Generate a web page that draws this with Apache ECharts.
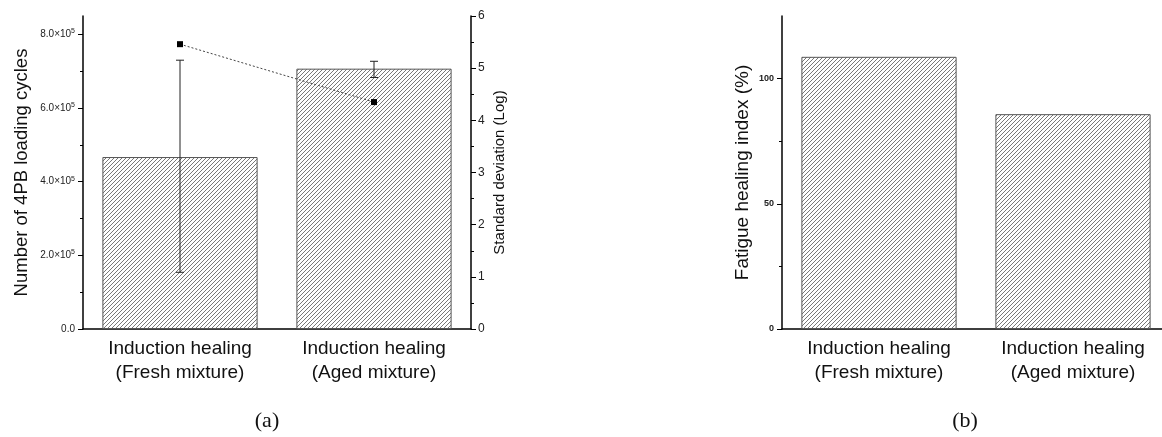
<!DOCTYPE html>
<html>
<head>
<meta charset="utf-8">
<script src="https://cdn.jsdelivr.net/npm/echarts@6/dist/echarts.min.js"></script>
<style>
  html, body { margin: 0; padding: 0; background: #fff; }
  #chart { width: 1162px; height: 437px; }
</style>
</head>
<body>
<div id="chart"></div>
<script>
    // data
    var categories = ['Induction healing\n(Fresh mixture)', 'Induction healing\n(Aged mixture)'];
    var cyclesMean = [467000, 707000];
    var cyclesLow = [154000, 683000];
    var cyclesHigh = [730000, 727000];
    var stdDevLog = [5.46, 4.35];
    var healingIndex = [108.7, 85.8];

    var leftTicks = [0, 200000, 400000, 600000, 800000];
    var leftMinorTicks = [100000, 300000, 500000, 700000];
    var healTicks = [0, 50, 100];
    var healMinorTicks = [25, 75];

    // hatch fill for the bars
    function hatch() {
        var c = document.createElement('canvas');
        c.width = 8; c.height = 8;
        var g = c.getContext('2d');
        g.fillStyle = '#fff';
        g.fillRect(0, 0, 8, 8);
        g.strokeStyle = '#6a6a6a';
        g.lineWidth = 0.9;
        for (var k = -2; k <= 3; k++) {
            g.beginPath();
            g.moveTo(k * 4, 8);
            g.lineTo(k * 4 + 8, 0);
            g.stroke();
        }
        return { image: c, repeat: 'repeat' };
    }
    var fill = hatch();

    var errData = cyclesMean.map(function (v, i) {
        return [i, cyclesLow[i], cyclesHigh[i]];
    });

    var font = 'Liberation Sans, Arial, sans-serif';

    var myChart = echarts.init(document.getElementById('chart'));

    var catAxis = function (gridIndex) {
        return {
            type: 'category',
            gridIndex: gridIndex,
            data: categories,
            axisLine: { lineStyle: { color: '#000', width: 1.5 } },
            axisTick: { alignWithLabel: true, length: 5, lineStyle: { color: '#000' } },
            axisLabel: { fontFamily: font, fontSize: 19, lineHeight: 24, color: '#111', margin: 8, interval: 0 }
        };
    };

    var option = {
        backgroundColor: '#fff',
        animation: false,
        grid: [
            { left: 83, top: 16, width: 388, bottom: 108, outerBoundsMode: 'none' },
            { left: 782, top: 16, width: 388, bottom: 108, outerBoundsMode: 'none' }
        ],
        xAxis: [
            catAxis(0),
            catAxis(1),
            {
                type: 'category', gridIndex: 1, data: categories,
                axisLine: { show: false },
                axisTick: { length: 4, lineStyle: { color: '#000' } },
                axisLabel: { show: false }
            }
        ],
        yAxis: [
            {
                type: 'value', gridIndex: 0, position: 'left', min: 0, max: 850000,
                name: 'Number of 4PB loading cycles', nameLocation: 'middle', nameGap: 52,
                nameTextStyle: { fontFamily: font, fontSize: 18.5, color: '#111' },
                axisLine: { show: true, lineStyle: { color: '#000', width: 1.5 } },
                axisTick: { show: true, length: 5, customValues: leftTicks, lineStyle: { color: '#000' } },
                splitLine: { show: false },
                axisLabel: {
                    customValues: leftTicks, margin: 8,
                    formatter: function (v) {
                        if (v === 0) return '{m|0.0}';
                        return '{m|' + (v / 100000).toFixed(1) + '×10}{e|5}';
                    },
                    rich: {
                        m: { fontFamily: font, fontSize: 10, color: '#222', lineHeight: 13 },
                        e: { fontFamily: font, fontSize: 7, color: '#222', lineHeight: 13, verticalAlign: 'top', padding: [0, 0, 4, 0] }
                    }
                }
            },
            {
                type: 'value', gridIndex: 0, position: 'left', min: 0, max: 850000,
                axisLine: { show: false },
                axisTick: { show: true, length: 3, customValues: leftMinorTicks, lineStyle: { color: '#000' } },
                axisLabel: { show: false },
                splitLine: { show: false }
            },
            {
                type: 'value', gridIndex: 0, position: 'right', min: 0, max: 6, interval: 1,
                name: 'Standard deviation (Log)', nameLocation: 'middle', nameGap: 21,
                nameTextStyle: { fontFamily: font, fontSize: 15, color: '#111' },
                axisLine: { show: true, lineStyle: { color: '#000', width: 1.5 } },
                axisTick: { show: true, length: 5, lineStyle: { color: '#000' } },
                minorTick: { show: true, splitNumber: 2, length: 3, lineStyle: { color: '#000' } },
                axisLabel: { fontFamily: font, fontSize: 12, color: '#222', margin: 7 },
                splitLine: { show: false }
            },
            {
                type: 'value', gridIndex: 1, position: 'left', min: 0, max: 125,
                name: 'Fatigue healing index (%)', nameLocation: 'middle', nameGap: 30,
                nameTextStyle: { fontFamily: font, fontSize: 19, color: '#111' },
                axisLine: { show: true, lineStyle: { color: '#000', width: 1.5 } },
                axisTick: { show: true, length: 5, customValues: healTicks, lineStyle: { color: '#000' } },
                axisLabel: { customValues: healTicks, fontFamily: font, fontSize: 9, fontWeight: 'bold', color: '#222', margin: 8 },
                splitLine: { show: false }
            },
            {
                type: 'value', gridIndex: 1, position: 'left', min: 0, max: 125,
                axisLine: { show: false },
                axisTick: { show: true, length: 3, customValues: healMinorTicks, lineStyle: { color: '#000' } },
                axisLabel: { show: false },
                splitLine: { show: false }
            }
        ],
        series: [
            {
                type: 'bar', xAxisIndex: 0, yAxisIndex: 0,
                data: cyclesMean, barWidth: '80%',
                itemStyle: { color: fill, borderColor: '#555', borderWidth: 1 }
            },
            {
                type: 'custom', xAxisIndex: 0, yAxisIndex: 0,
                data: errData, encode: { x: 0, y: [1, 2] }, z: 5,
                renderItem: function (params, api) {
                    var lo = api.coord([api.value(0), api.value(1)]);
                    var hi = api.coord([api.value(0), api.value(2)]);
                    var w = 4;
                    var st = { stroke: '#222', lineWidth: 1 };
                    return {
                        type: 'group',
                        children: [
                            { type: 'line', shape: { x1: hi[0], y1: hi[1], x2: lo[0], y2: lo[1] }, style: st },
                            { type: 'line', shape: { x1: hi[0] - w, y1: hi[1], x2: hi[0] + w, y2: hi[1] }, style: st },
                            { type: 'line', shape: { x1: lo[0] - w, y1: lo[1], x2: lo[0] + w, y2: lo[1] }, style: st }
                        ]
                    };
                }
            },
            {
                type: 'line', xAxisIndex: 0, yAxisIndex: 2, z: 6,
                data: stdDevLog,
                symbol: 'rect', symbolSize: 6,
                itemStyle: { color: '#000' },
                lineStyle: { color: '#444', width: 1, type: [2, 2] }
            },
            {
                type: 'bar', xAxisIndex: 1, yAxisIndex: 3,
                data: healingIndex, barWidth: '80%',
                itemStyle: { color: fill, borderColor: '#555', borderWidth: 1 }
            }
        ],
        graphic: [
            { type: 'text', x: 267, y: 421, style: { text: '(a)', font: '22px "Liberation Serif", serif', fill: '#111', align: 'center', verticalAlign: 'middle' } },
            { type: 'text', x: 965, y: 421, style: { text: '(b)', font: '22px "Liberation Serif", serif', fill: '#111', align: 'center', verticalAlign: 'middle' } }
        ]
    };

    myChart.setOption(option);
</script>
</body>
</html>
